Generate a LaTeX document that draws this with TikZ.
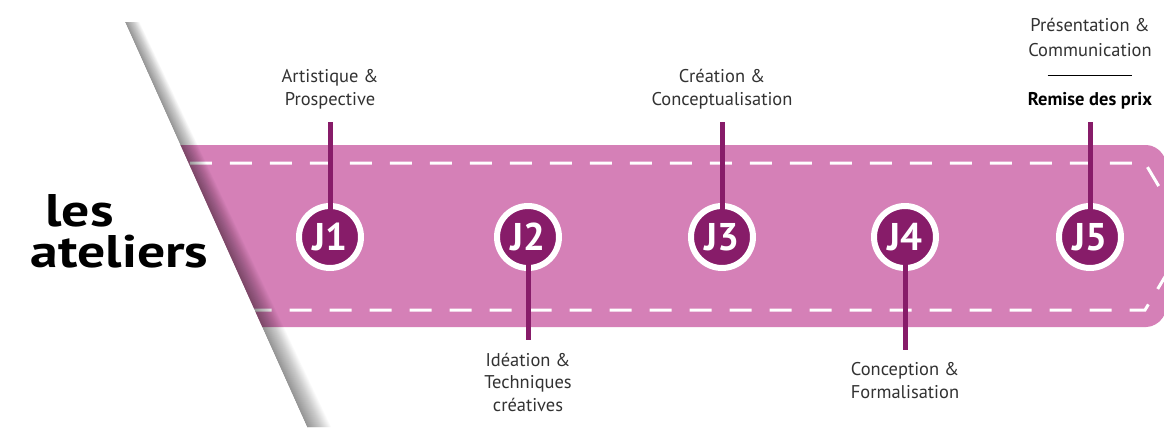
\documentclass[tikz,border=0pt]{standalone}
\usepackage{fontspec}
\setmainfont{PT Sans}
\newfontfamily\titlefont[FakeStretch=1.22]{PT Sans}
\usetikzlibrary{positioning}

\definecolor{bandpink}{RGB}{213,128,183}
\definecolor{jpurple}{RGB}{135,28,105}
\definecolor{labelgray}{RGB}{50,50,50}

\begin{document}
\begin{tikzpicture}[x=0.02cm, y=0.02cm, semithick,
  day/.style={circle, minimum size=1.24cm, inner sep=0pt, outer sep=0pt, fill=jpurple, draw=white, line width=0.12cm, text=white, font=\fontsize{22}{22}\selectfont\bfseries},
  stem/.style={jpurple, line width=0.1cm},
  toplabel/.style={anchor=south, align=center, inner ysep=7pt, text=labelgray, font=\fontsize{10.5}{13}\selectfont},
  botlabel/.style={toplabel, anchor=north},
  title/.style={anchor=base west, inner sep=0pt, align=left, font=\titlefont\fontsize{26}{23}\selectfont\bfseries}]

  \useasboundingbox (0,0) rectangle (1164,427);
  \fill[white] (0,0) rectangle (1164,427);

  % the band and its stitching
  \fill[bandpink, rounded corners=6] (150,100) -- (150,282) -- (1157,282) -- (1212,191) -- (1157,100) -- cycle;
  \draw[white, line width=0.06cm, dash pattern=on 0.44cm off 0.36cm] (150,264) -- (1145,264) -- (1189,190) -- (1145,117) -- (150,117);

  % shadow of the folded page
  \foreach \i in {1,...,24}
    \fill[black, opacity=0.02] (125,405) -- (307,0) -- (307+\i,0) -- (125+0.6*\i,405) -- cycle;
  \fill[white] (0,0) -- (307,0) -- (125,405) -- (125,427) -- (0,427) -- cycle;

  \node[title] (title) at (30,160) {\hspace*{0.3cm}les\\ateliers};

  % the five days
  \node[day] (j1) at (330,190) {J1};
  \node[day] (j2) at (528,190) {J2};
  \node[day] (j3) at (722,190) {J3};
  \node[day] (j4) at (905,190) {J4};
  \node[day] (j5) at (1090,190) {J5};

  \node[toplabel] (lab1) at (330,305) {Artistique \&\\Prospective};
  \node[botlabel] (lab2) at (528,87) {Idéation \&\\Techniques\\créatives};
  \node[toplabel] (lab3) at (722,305) {Création \&\\Conceptualisation};
  \node[botlabel] (lab4) at (905,77) {Conception \&\\Formalisation};
  \node[toplabel, font=\fontsize{10.5}{14}\selectfont] (lab5) at (1090,305) {Présentation \&\\Communication\\{\color{black}\rule[2.6pt]{1.7cm}{1pt}}\\{\color{black}\bfseries Remise des prix}};

  \draw[stem, shorten <=-0.07cm] (j1.north) -- (lab1.south);
  \draw[stem, shorten <=-0.07cm] (j2.south) -- (lab2.north);
  \draw[stem, shorten <=-0.07cm] (j3.north) -- (lab3.south);
  \draw[stem, shorten <=-0.07cm] (j4.south) -- (lab4.north);
  \draw[stem, shorten <=-0.07cm] (j5.north) -- (lab5.south);
\end{tikzpicture}
\end{document}
